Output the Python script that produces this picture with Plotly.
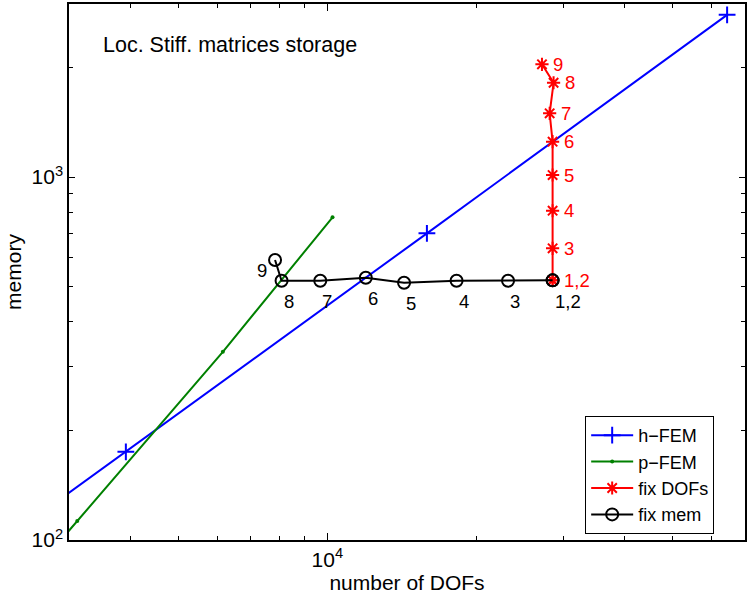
import numpy as np
import plotly.graph_objects as go

# ---- data ----
h_dofs = [960, 3910, 15900, 64400]
h_mem = [43.8, 175, 700, 2800]

p_dofs = [1356, 3118, 6144, 10242]
p_mem = [30.2, 112.8, 330, 775]

fixdof_dofs = [28560, 28560, 28560, 28560, 28560, 28560, 28170, 28690, 27180]
fixdof_mem = [519.5, 519.5, 636.6, 808, 1013.5, 1252, 1499, 1820, 2046]

fixmem_dofs = [28560, 28560, 23205, 18255, 14294, 11960, 9674, 8078, 7836]
fixmem_mem = [519.5, 519.5, 518, 518, 511.8, 528.3, 518, 518, 590.9]

point_labels = ["1,2", "", "3", "4", "5", "6", "7", "8", "9"]

x_range = [3000, 70000]
y_range = [100, 3000]
x_tickvals = [1e4]
x_ticktext = ["10<sup>4</sup>"]
y_tickvals = [100, 1000]
y_ticktext = ["10<sup>2</sup>", "10<sup>3</sup>"]
x_minor = [4000, 5000, 6000, 7000, 8000, 9000, 20000, 30000, 40000, 50000, 60000]
y_minor = [200, 300, 400, 500, 600, 700, 800, 900, 2000]

FONT = "Liberation Sans, Arial, Helvetica, sans-serif"

fig = go.Figure()
fig.add_trace(go.Scatter(x=h_dofs, y=h_mem, name="h\u2212FEM", mode="lines+markers",
                         line=dict(color="#0000ff", width=2),
                         marker=dict(symbol="cross-thin", size=12, line=dict(color="#0000ff", width=2))))
fig.add_trace(go.Scatter(x=p_dofs, y=p_mem, name="p\u2212FEM", mode="lines+markers",
                         line=dict(color="#008000", width=2),
                         marker=dict(symbol="circle", size=4, color="#008000")))
fig.add_trace(go.Scatter(x=fixdof_dofs, y=fixdof_mem, name="fix DOFs", mode="lines+markers",
                         line=dict(color="#ff0000", width=2),
                         marker=dict(symbol="asterisk-open", size=11, line=dict(color="#ff0000", width=2))))
fig.add_trace(go.Scatter(x=fixmem_dofs, y=fixmem_mem, name="fix mem", mode="lines+markers",
                         line=dict(color="#000000", width=2),
                         marker=dict(symbol="circle-open", size=12, line=dict(color="#000000", width=2))))

annotations = []
for i, lab in enumerate(point_labels):
    if not lab:
        continue
    # red labels (fix DOFs)
    annotations.append(dict(x=np.log10(fixdof_dofs[i]), y=np.log10(fixdof_mem[i]), xref="x", yref="y",
                            text=lab, showarrow=False, xanchor="left", yanchor="middle", xshift=9,
                            font=dict(family=FONT, size=18.5, color="#ff0000")))
    # black labels (fix mem)
    if lab == "9":
        xs, ys = -20, -10
    else:
        xs, ys = 0, -21
    annotations.append(dict(x=np.log10(fixmem_dofs[i]), y=np.log10(fixmem_mem[i]), xref="x", yref="y",
                            text=lab, showarrow=False, xanchor="left", yanchor="middle", xshift=xs, yshift=ys,
                            font=dict(family=FONT, size=18.5, color="#000000")))

annotations.append(dict(x=0.0475, y=0.9244, xref="paper", yref="paper", text="Loc. Stiff. matrices storage",
                        showarrow=False, xanchor="left", yanchor="middle",
                        font=dict(family=FONT, size=21.5, color="#000000")))

axis_common = dict(type="log", showline=True, linecolor="black", linewidth=1.5, mirror="ticks",
                   ticks="inside", tickcolor="black", tickwidth=1, showgrid=False, zeroline=False,
                   tickfont=dict(family=FONT, size=21, color="black"))

fig.update_layout(
    width=748, height=597,
    margin=dict(l=69, r=1, t=4, b=57),
    paper_bgcolor="white", plot_bgcolor="white",
    font=dict(family=FONT, color="black"),
    showlegend=True,
    legend=dict(x=(586.7 - 69) / 678, y=(540 - 416) / 536, xanchor="left", yanchor="top",
                bordercolor="black", borderwidth=1, bgcolor="white", itemwidth=42,
                entrywidth=153, entrywidthmode="pixels",
                font=dict(family=FONT, size=18, color="black"), traceorder="normal"),
    annotations=annotations,
)
fig.update_xaxes(**axis_common, range=[np.log10(x_range[0]), np.log10(x_range[1])],
                 tickvals=x_tickvals, ticktext=x_ticktext, ticklen=7,
                 minor=dict(tickvals=x_minor, ticks="inside", ticklen=4, tickcolor="black", showgrid=False),
                 title=dict(text="number of DOFs", font=dict(family=FONT, size=21), standoff=2))
fig.update_yaxes(**axis_common, range=[np.log10(y_range[0]), np.log10(y_range[1])],
                 tickvals=y_tickvals, ticktext=y_ticktext, ticklen=6,
                 minor=dict(tickvals=y_minor, ticks="inside", ticklen=4, tickcolor="black", showgrid=False),
                 title=dict(text="memory", font=dict(family=FONT, size=21), standoff=4))

fig.write_html("out.html")
